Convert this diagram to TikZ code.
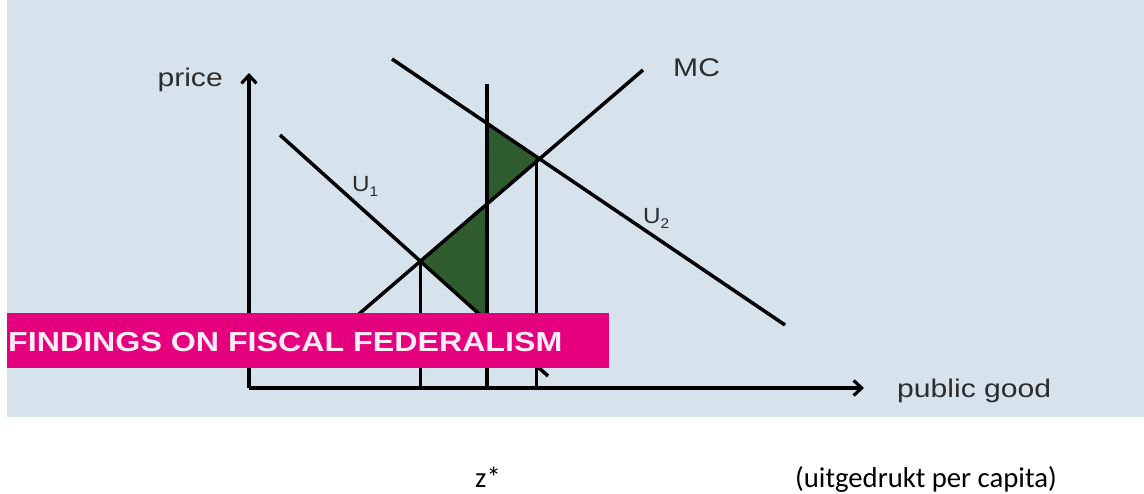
\documentclass[tikz,border=0pt]{standalone}
\usepackage{fontspec}
\usetikzlibrary{arrows.meta,intersections,calc}
\newfontfamily\arialf{Liberation Sans}
\newfontfamily\calif{Carlito}
\definecolor{bgblue}{RGB}{214,226,236}
\definecolor{dkgreen}{RGB}{47,92,47}
\definecolor{bannerpink}{RGB}{229,0,125}
\definecolor{lblgray}{RGB}{45,45,45}
\definecolor{bannertext}{RGB}{255,236,246}
\begin{document}
\begin{tikzpicture}[x=1pt,y=-1pt,
  curve/.style={line width=3.5pt, black},
  axisline/.style={line width=3.2pt, black, -{Straight Barb[length=8pt,width=15pt]}},
  lbl/.style={inner sep=0pt, text=lblgray, font=\arialf\fontsize{25.5}{25.5}\selectfont, xscale=1.18},
  ulbl/.style={inner sep=0pt, text=lblgray, font=\arialf\fontsize{22}{22}\selectfont, xscale=1.1},
  bannertxt/.style={inner sep=0pt, text=bannertext, font=\arialf\bfseries\fontsize{27.5}{27.5}\selectfont, xscale=1.17},
  bottomtxt/.style={inner sep=0pt, text=black, font=\calif\fontsize{28.7}{28.7}\selectfont}]
\useasboundingbox (0,0) rectangle (1144,493);
\fill[white] (0,0) rectangle (1144,493);
\fill[bgblue] (7,0) rectangle (1144,417);
% coordinates
\coordinate (o) at (249,388);
\coordinate (ytop) at (249,73);
\coordinate (xend) at (864,388);
\coordinate (u1a) at (280,135);
\coordinate (u1b) at (548,376);
\coordinate (mca) at (352,320);
\coordinate (mcb) at (643,70);
\coordinate (u2a) at (392,59);
\coordinate (u2b) at (785,325);
\coordinate (v2t) at (487,84);
\coordinate (v2b) at (487,388);
% paths for intersections
\path[name path=U1] (u1a) -- (u1b);
\path[name path=MC] (mca) -- (mcb);
\path[name path=U2] (u2a) -- (u2b);
\path[name path=V2] (v2t) -- (v2b);
\path[name intersections={of=U1 and MC, by=p1}];
\path[name intersections={of=MC and U2, by=p2}];
\path[name intersections={of=V2 and U2, by=q2}];
\path[name intersections={of=V2 and MC, by=q1}];
\path[name intersections={of=V2 and U1, by=q0}];
% shaded triangles
\fill[dkgreen] (q2) -- (p2) -- (q1) -- cycle;
\fill[dkgreen] (p1) -- (q1) -- (q0) -- cycle;
% curves
\draw[curve] (u1a) -- (u1b);
\draw[curve] (mca) -- (mcb);
\draw[curve] (u2a) -- (u2b);
\draw[curve] (v2t) -- (v2b);
\draw[curve] (p1) -- (p1 |- o);
\draw[curve] ($(p2)+(-3,0)$) -- ($(p2 |- o)+(-3,0)$);
% axes
\draw[axisline] (o) -- (ytop);
\draw[axisline] (o) -- (xend);
% labels
\node[lbl, anchor=base east] (price) at (223,86) {price};
\node[lbl, anchor=base west] (mc) at (673,76) {MC};
\node[lbl, anchor=base west] (pg) at (897,397) {public good};
\node[ulbl, anchor=base west] (u1) at (352,191) {U\lower5pt\hbox{\fontsize{14}{14}\selectfont 1}};
\node[ulbl, anchor=base west] (u2) at (643,223) {U\lower5pt\hbox{\fontsize{14}{14}\selectfont 2}};
% banner
\fill[bannerpink] (7,313) rectangle (609,368);
\node[bannertxt, anchor=base west] (ban) at (8,351) {FINDINGS ON FISCAL FEDERALISM};
% bottom texts
\node[bottomtxt, anchor=base west] (z) at (475,487) {z*};
\node[bottomtxt, anchor=base west] (uit) at (795,487) {(uitgedrukt per capita)};
\end{tikzpicture}
\end{document}
